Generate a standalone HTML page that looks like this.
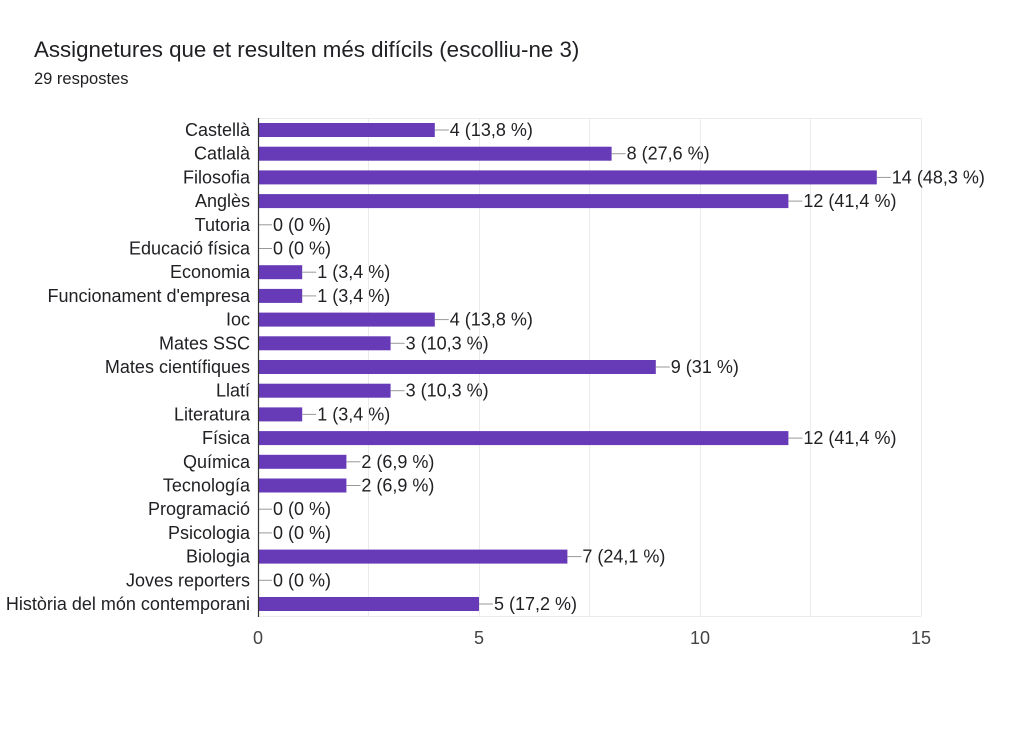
<!DOCTYPE html>
<html><head><meta charset="utf-8"><style>
body{margin:0;background:#fff;width:1024px;height:739px;overflow:hidden;font-family:"Liberation Sans",Arial,sans-serif}
</style></head><body>
<svg width="1024" height="739" xmlns="http://www.w3.org/2000/svg" font-family="Liberation Sans, Arial, sans-serif">
<text x="34" y="57" font-size="22.3" fill="#202124">Assignetures que et resulten més difícils (escolliu-ne 3)</text>
<text x="34" y="84" font-size="16.5" fill="#202124">29 respostes</text>
<g stroke="#ebebeb" stroke-width="1">
<line x1="368.5" y1="118" x2="368.5" y2="616"/><line x1="479.5" y1="118" x2="479.5" y2="616"/>
<line x1="589.5" y1="118" x2="589.5" y2="616"/><line x1="700.5" y1="118" x2="700.5" y2="616"/>
<line x1="810.5" y1="118" x2="810.5" y2="616"/><line x1="921.5" y1="118" x2="921.5" y2="616"/>
<line x1="258" y1="118.5" x2="921" y2="118.5"/><line x1="258" y1="616.5" x2="921" y2="616.5"/>
</g>
<g font-size="18" fill="#202124" text-anchor="end">
<text x="250" y="136">Castellà</text>
<text x="250" y="159.7">Catlalà</text>
<text x="250" y="183.4">Filosofia</text>
<text x="250" y="207.1">Anglès</text>
<text x="250" y="230.8">Tutoria</text>
<text x="250" y="254.5">Educació física</text>
<text x="250" y="278.2">Economia</text>
<text x="250" y="301.9">Funcionament d'empresa</text>
<text x="250" y="325.6">Ioc</text>
<text x="250" y="349.3">Mates SSC</text>
<text x="250" y="373">Mates científiques</text>
<text x="250" y="396.7">Llatí</text>
<text x="250" y="420.4">Literatura</text>
<text x="250" y="444.1">Física</text>
<text x="250" y="467.8">Química</text>
<text x="250" y="491.5">Tecnología</text>
<text x="250" y="515.2">Programació</text>
<text x="250" y="538.9">Psicologia</text>
<text x="250" y="562.6">Biologia</text>
<text x="250" y="586.3">Joves reporters</text>
<text x="250" y="610">Història del món contemporani</text>
</g>
<g fill="#673ab7">
<rect x="258" y="123" width="176.8" height="14"/>
<rect x="258" y="146.7" width="353.6" height="14"/>
<rect x="258" y="170.4" width="618.8" height="14"/>
<rect x="258" y="194.1" width="530.4" height="14"/>
<rect x="258" y="265.2" width="44.2" height="14"/>
<rect x="258" y="288.9" width="44.2" height="14"/>
<rect x="258" y="312.6" width="176.8" height="14"/>
<rect x="258" y="336.3" width="132.6" height="14"/>
<rect x="258" y="360" width="397.8" height="14"/>
<rect x="258" y="383.7" width="132.6" height="14"/>
<rect x="258" y="407.4" width="44.2" height="14"/>
<rect x="258" y="431.1" width="530.4" height="14"/>
<rect x="258" y="454.8" width="88.4" height="14"/>
<rect x="258" y="478.5" width="88.4" height="14"/>
<rect x="258" y="549.6" width="309.4" height="14"/>
<rect x="258" y="597" width="221" height="14"/>
</g>
<g stroke="#999" stroke-width="1">
<line x1="434.8" y1="130" x2="448.8" y2="130"/>
<line x1="611.6" y1="153.7" x2="625.6" y2="153.7"/>
<line x1="876.8" y1="177.4" x2="890.8" y2="177.4"/>
<line x1="788.4" y1="201.1" x2="802.4" y2="201.1"/>
<line x1="258" y1="224.8" x2="272" y2="224.8"/>
<line x1="258" y1="248.5" x2="272" y2="248.5"/>
<line x1="302.2" y1="272.2" x2="316.2" y2="272.2"/>
<line x1="302.2" y1="295.9" x2="316.2" y2="295.9"/>
<line x1="434.8" y1="319.6" x2="448.8" y2="319.6"/>
<line x1="390.6" y1="343.3" x2="404.6" y2="343.3"/>
<line x1="655.8" y1="367" x2="669.8" y2="367"/>
<line x1="390.6" y1="390.7" x2="404.6" y2="390.7"/>
<line x1="302.2" y1="414.4" x2="316.2" y2="414.4"/>
<line x1="788.4" y1="438.1" x2="802.4" y2="438.1"/>
<line x1="346.4" y1="461.8" x2="360.4" y2="461.8"/>
<line x1="346.4" y1="485.5" x2="360.4" y2="485.5"/>
<line x1="258" y1="509.2" x2="272" y2="509.2"/>
<line x1="258" y1="532.9" x2="272" y2="532.9"/>
<line x1="567.4" y1="556.6" x2="581.4" y2="556.6"/>
<line x1="258" y1="580.3" x2="272" y2="580.3"/>
<line x1="479" y1="604" x2="493" y2="604"/>
</g>
<g font-size="18" fill="#202124">
<text x="449.8" y="136">4 (13,8 %)</text>
<text x="626.6" y="159.7">8 (27,6 %)</text>
<text x="891.8" y="183.4">14 (48,3 %)</text>
<text x="803.4" y="207.1">12 (41,4 %)</text>
<text x="273" y="230.8">0 (0 %)</text>
<text x="273" y="254.5">0 (0 %)</text>
<text x="317.2" y="278.2">1 (3,4 %)</text>
<text x="317.2" y="301.9">1 (3,4 %)</text>
<text x="449.8" y="325.6">4 (13,8 %)</text>
<text x="405.6" y="349.3">3 (10,3 %)</text>
<text x="670.8" y="373">9 (31 %)</text>
<text x="405.6" y="396.7">3 (10,3 %)</text>
<text x="317.2" y="420.4">1 (3,4 %)</text>
<text x="803.4" y="444.1">12 (41,4 %)</text>
<text x="361.4" y="467.8">2 (6,9 %)</text>
<text x="361.4" y="491.5">2 (6,9 %)</text>
<text x="273" y="515.2">0 (0 %)</text>
<text x="273" y="538.9">0 (0 %)</text>
<text x="582.4" y="562.6">7 (24,1 %)</text>
<text x="273" y="586.3">0 (0 %)</text>
<text x="494" y="610">5 (17,2 %)</text>
</g>
<line x1="258.5" y1="118" x2="258.5" y2="617" stroke="#333" stroke-width="1.2"/>
<g font-size="18" fill="#444" text-anchor="middle">
<text x="258" y="644">0</text><text x="479" y="644">5</text><text x="700" y="644">10</text><text x="921" y="644">15</text>
</g>
</svg>
</body></html>
